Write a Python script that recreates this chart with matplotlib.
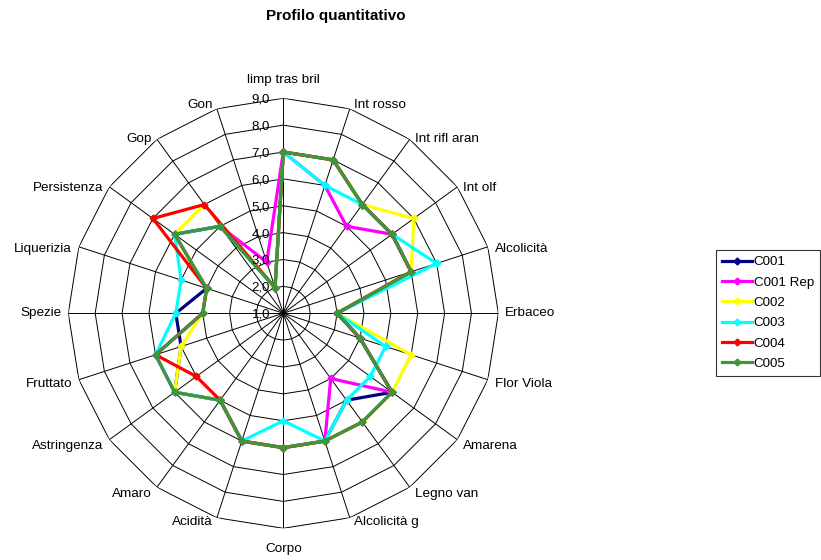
import numpy as np
import matplotlib
matplotlib.use('Agg')
import matplotlib.pyplot as plt

plt.rcParams['font.family'] = ['Liberation Sans', 'DejaVu Sans']

categories = ['limp tras bril', 'Int rosso', 'Int rifl aran', 'Int olf', 'Alcolicità',
              'Erbaceo', 'Flor Viola', 'Amarena', 'Legno van', 'Alcolicità g',
              'Corpo', 'Acidità', 'Amaro', 'Astringenza', 'Fruttato',
              'Spezie', 'Liquerizia', 'Persistenza', 'Gop', 'Gon']

c001     = [7, 7, 6, 6, 6, 3, 4, 6, 5, 6, 6, 6, 5, 6, 5, 5, 4, 6, 5, 2]
c001_rep = [7, 6, 5, 6, 6, 3, 4, 6, 4, 6, 6, 6, 5, 6, 6, 4, 4, 6, 5, 3]
c002     = [7, 7, 6, 7, 6, 3, 6, 6, 6, 6, 6, 6, 5, 6, 5, 4, 4, 6, 6, 2]
c003     = [7, 6, 6, 6, 7, 3, 5, 5, 5, 6, 5, 6, 5, 6, 6, 5, 5, 6, 5, 2]
c004     = [7, 7, 6, 6, 6, 3, 4, 6, 6, 6, 6, 6, 5, 5, 6, 4, 4, 7, 6, 2]
c005     = [7, 7, 6, 6, 6, 3, 4, 6, 6, 6, 6, 6, 5, 6, 6, 4, 4, 6, 5, 2]

series_names = ['C001', 'C001 Rep', 'C002', 'C003', 'C004', 'C005']
series_values = [c001, c001_rep, c002, c003, c004, c005]
series_colors = ['#000080', '#FF00FF', '#FFFF00', '#00FFFF', '#FF0000', '#3C963C']

r_ticks = [1, 2, 3, 4, 5, 6, 7, 8, 9]

n = len(categories)
theta = np.arange(n) * 2 * np.pi / n
theta_closed = np.append(theta, theta[0])

fig = plt.figure(figsize=(8.21, 5.6), dpi=100)
ax = fig.add_axes([0.0832, 0.0566, 0.5238, 0.768], projection='polar')
ax.set_theta_zero_location('N')
ax.set_theta_direction(-1)
ax.set_ylim(1, 9)
ax.grid(False)
ax.spines['polar'].set_visible(False)
ax.set_xticks([])
ax.set_yticks([])

# polygon gridlines and spokes (Excel style)
for v in r_ticks[1:]:
    ax.plot(theta_closed, [v] * (n + 1), color='black', lw=0.7, zorder=1)
for t in theta:
    ax.plot([t, t], [1, 9], color='black', lw=0.7, zorder=1)

for v in r_ticks:
    ax.annotate('%d,0' % v, xy=(0, v), xytext=(-9.5, -1), textcoords='offset points',
                ha='right', va='center', fontsize=9.5, zorder=5)

for t, lab in zip(theta, categories):
    s = np.sin(t)
    c = np.cos(t)
    if abs(s) < 0.05:
        ha = 'center'
        off = (0, 13 * c if c > 0 else 15 * c)
    else:
        dy = 3 * c
        if 0.2 < abs(c) < 0.9:
            dy -= 2.5
        dx = 2 + 3 * abs(s)
        if s > 0:
            ha = 'left'
        else:
            ha = 'right'
            dx = -dx
        off = (dx, dy)
    ax.annotate(lab, xy=(t, 9), xytext=off, textcoords='offset points',
                ha=ha, va='center', fontsize=9.7)

for name, vals, col in zip(series_names, series_values, series_colors):
    ax.plot(theta_closed, vals + vals[:1], color=col, lw=2.3, marker='D',
            markersize=3.5, label=name, zorder=3)

fig.legend(loc='center', bbox_to_anchor=(0.935, 0.441), fontsize=9.6, frameon=True,
           fancybox=False, edgecolor='black', handlelength=2.3, handletextpad=0.1,
           labelspacing=0.6, borderpad=0.45)
leg = fig.legends[0]
leg.get_frame().set_linewidth(0.8)

fig.text(0.409, 0.972, 'Profilo quantitativo', ha='center', va='center',
         fontsize=11, fontweight='bold')

fig.savefig('out.png', dpi=100)
